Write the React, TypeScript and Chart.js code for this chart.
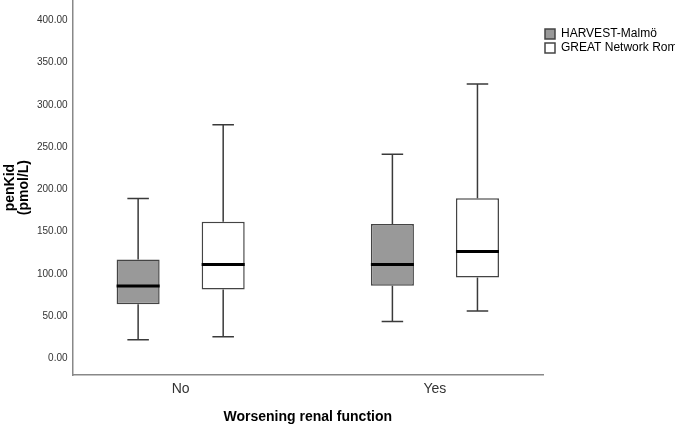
import React, { useEffect, useRef } from "react";
import { Chart, registerables } from "chart.js";

Chart.register(...registerables);

const categories = ["No", "Yes"];
const yTickValues = [0, 50, 100, 150, 200, 250, 300, 350, 400];

const harvestLabel = "HARVEST-Malmö";
const harvestMin = [22, 43.5];
const harvestQ1 = [64, 86];
const harvestMedian = [85.5, 111];
const harvestQ3 = [117, 159];
const harvestMax = [189, 241.5];

const greatLabel = "GREAT Network Rome";
const greatMin = [25.5, 56];
const greatQ1 = [81.5, 95.5];
const greatMedian = [111, 126.5];
const greatQ3 = [161.5, 189.5];
const greatMax = [276.5, 324.5];

const FONT = "Arial, 'Liberation Sans', sans-serif";

const series = [
  { label: harvestLabel, min: harvestMin, q1: harvestQ1, med: harvestMedian, q3: harvestQ3, max: harvestMax, fill: "#999999" },
  { label: greatLabel, min: greatMin, q1: greatQ1, med: greatMedian, q3: greatQ3, max: greatMax, fill: "#ffffff" },
];

const whiskerPlugin = {
  id: "whiskers",
  afterDatasetsDraw(chart: any) {
    const ctx = chart.ctx;
    const y = chart.scales.y;
    series.forEach((s, di) => {
      const meta = chart.getDatasetMeta(di);
      meta.data.forEach((el: any, i: number) => {
        const x = el.x;
        const w = el.width;
        const half = w / 2;
        const capHalf = w / 4;
        ctx.save();
        ctx.strokeStyle = "#3a3a3a";
        ctx.lineWidth = 1.5;
        ctx.beginPath();
        ctx.moveTo(x, y.getPixelForValue(s.q3[i]));
        ctx.lineTo(x, y.getPixelForValue(s.max[i]));
        ctx.moveTo(x - capHalf, y.getPixelForValue(s.max[i]));
        ctx.lineTo(x + capHalf, y.getPixelForValue(s.max[i]));
        ctx.moveTo(x, y.getPixelForValue(s.q1[i]));
        ctx.lineTo(x, y.getPixelForValue(s.min[i]));
        ctx.moveTo(x - capHalf, y.getPixelForValue(s.min[i]));
        ctx.lineTo(x + capHalf, y.getPixelForValue(s.min[i]));
        ctx.stroke();
        ctx.strokeStyle = "#000000";
        ctx.lineWidth = 3;
        ctx.beginPath();
        ctx.moveTo(x - half, y.getPixelForValue(s.med[i]));
        ctx.lineTo(x + half, y.getPixelForValue(s.med[i]));
        ctx.stroke();
        ctx.restore();
      });
    });
  },
};

export default function App() {
  const canvasRef = useRef<HTMLCanvasElement | null>(null);

  useEffect(() => {
    const canvas = canvasRef.current;
    if (!canvas) return;
    const chart = new Chart(canvas, {
      type: "bar",
      data: {
        datasets: series.map((s) => ({
          label: s.label,
          data: categories.map((_, i) => ({ x: i, y: [s.q1[i], s.q3[i]] })),
          backgroundColor: s.fill,
          borderColor: "#444444",
          borderWidth: 1.5,
          borderSkipped: false,
          categoryPercentage: 0.669,
          barPercentage: 0.506,
        })),
      } as any,
      options: {
        responsive: false,
        animation: false,
        maintainAspectRatio: false,
        layout: { padding: 0 },
        plugins: {
          tooltip: { enabled: false },
          legend: {
            position: "right",
            align: "start",
            maxWidth: 132,
            title: { display: true, text: "", padding: { top: 25, bottom: 0 }, font: { size: 1, lineHeight: 1 } },
            labels: {
              boxWidth: 10,
              boxHeight: 10,
              padding: 2,
              color: "#000000",
              font: { family: FONT, size: 12 },
            },
          },
        },
        scales: {
          x: {
            type: "linear",
            offset: false,
            min: -0.425,
            max: 1.425,
            afterBuildTicks: (scale: any) => {
              scale.ticks = categories.map((_, i) => ({ value: i }));
            },
            grid: { display: false, drawTicks: false, offset: false },
            border: { display: true, color: "#888888", width: 1.5 },
            ticks: {
              padding: 6,
              color: "#333333",
              font: { family: FONT, size: 14 },
              callback: (v: any) => categories[v] ?? "",
            },
            title: {
              display: true,
              text: "Worsening renal function",
              color: "#000000",
              font: { family: FONT, size: 14, weight: "bold", lineHeight: 1 },
              padding: { top: 6, bottom: 0 },
            },
          },
          y: {
            type: "linear",
            min: -20,
            max: 424,
            afterBuildTicks: (scale: any) => {
              scale.ticks = yTickValues.map((v) => ({ value: v }));
            },
            afterFit: (scale: any) => {
              scale.paddingTop = 0;
              scale.paddingBottom = 0;
            },
            grid: { display: false, drawTicks: false },
            border: { display: true, color: "#888888", width: 1.5 },
            ticks: {
              padding: 5,
              color: "#333333",
              font: { family: FONT, size: 10 },
              callback: (v: any) => Number(v).toFixed(2),
            },
            title: {
              display: true,
              text: ["penKid", "(pmol/L)"],
              color: "#000000",
              font: { family: FONT, size: 14, weight: "bold", lineHeight: 1 },
              padding: { top: 3, bottom: 1 },
            },
          },
        },
      } as any,
      plugins: [whiskerPlugin],
    });
    return () => chart.destroy();
  }, []);

  return (
    <div style={{ position: "fixed", left: 0, top: 0, width: 675, height: 424, background: "#ffffff" }}>
      <canvas ref={canvasRef} width={675} height={424} />
    </div>
  );
}
